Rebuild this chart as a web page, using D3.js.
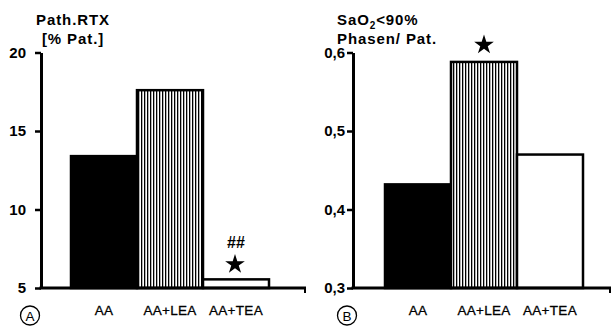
<!DOCTYPE html>
<html>
<head>
<meta charset="utf-8">
<script src="https://cdn.jsdelivr.net/npm/d3@7/dist/d3.min.js"></script>
<style>
  body { margin: 0; background: #fff; }
  svg { font-family: "Liberation Sans", Arial, sans-serif; }
</style>
</head>
<body>
<div id="chart"></div>
<script>
// data
const categories = ['AA', 'AA+LEA', 'AA+TEA'];
const rtxValues = [13.4, 17.6, 5.55];
const rtxTicks = [5, 10, 15, 20];
const saoValues = [0.432, 0.588, 0.470];
const saoTicks = [0.3, 0.4, 0.5, 0.6];
const fills = ['#000', 'url(#hatch)', '#fff'];

const width = 612, height = 327;

const svg = d3.select('#chart')
    .append('svg')
    .attr('width', width)
    .attr('height', height);

// vertical hatch pattern
const pattern = svg.append('defs').append('pattern')
    .attr('id', 'hatch')
    .attr('patternUnits', 'userSpaceOnUse')
    .attr('width', 3)
    .attr('height', 10);
pattern.append('rect').attr('width', 3).attr('height', 10).attr('fill', '#fff');
pattern.append('rect').attr('width', 1.3).attr('height', 10).attr('fill', '#000');

function drawPanel(opts) {

    const g = svg.append('g');

    const y = d3.scaleLinear()
        .domain(opts.domain)
        .range([288, 52.5]);

    const x = d3.scaleBand()
        .domain(categories)
        .range(opts.barRange)
        .padding(0);

    // bars
    g.selectAll('rect.bar')
        .data(opts.values)
        .join('rect')
        .attr('class', 'bar')
        .attr('x', (d, i) => x(categories[i]))
        .attr('y', d => y(d))
        .attr('width', x.bandwidth())
        .attr('height', d => y(opts.domain[0]) - y(d))
        .attr('fill', (d, i) => fills[i])
        .attr('stroke', '#000')
        .attr('stroke-width', 2.5);

    // y axis
    const yAxis = g.append('g')
        .attr('transform', `translate(${opts.axisX},0)`)
        .call(d3.axisLeft(y)
            .tickValues(opts.ticks)
            .tickSize(6)
            .tickSizeOuter(0)
            .tickFormat(opts.format));
    yAxis.select('.domain').attr('stroke-width', 3);
    yAxis.selectAll('.tick line').attr('stroke-width', 2.5);
    yAxis.selectAll('.tick text')
        .attr('font-size', 15)
        .attr('font-weight', 'bold')
        .attr('fill', '#000')
        .attr('x', opts.labelOffset);

    // x axis baseline
    g.append('line')
        .attr('x1', opts.axisX - 1.5)
        .attr('x2', opts.axisEnd)
        .attr('y1', y(opts.domain[0]))
        .attr('y2', y(opts.domain[0]))
        .attr('stroke', '#000')
        .attr('stroke-width', 3);
    g.append('line')
        .attr('x1', opts.axisEnd - 1)
        .attr('x2', opts.axisEnd - 1)
        .attr('y1', y(opts.domain[0]))
        .attr('y2', y(opts.domain[0]) + 5)
        .attr('stroke', '#000')
        .attr('stroke-width', 2);

    // category labels
    g.selectAll('text.cat')
        .data(categories)
        .join('text')
        .attr('class', 'cat')
        .attr('x', d => x(d) + x.bandwidth() / 2)
        .attr('y', 315)
        .attr('text-anchor', 'middle')
        .attr('font-size', 13.5)
        .attr('letter-spacing', 0.3)
        .attr('stroke', '#000')
        .attr('stroke-width', 0.3)
        .text(d => d);

    // panel letter
    g.append('circle')
        .attr('cx', opts.letterX)
        .attr('cy', 315.5)
        .attr('r', 9.5)
        .attr('fill', '#fff')
        .attr('stroke', '#000')
        .attr('stroke-width', 1.3);
    g.append('text')
        .attr('x', opts.letterX)
        .attr('y', 320.5)
        .attr('text-anchor', 'middle')
        .attr('font-size', 13.5)
        .text(opts.letter);

    return { g, x, y };
}

const titleStyle = t => t
    .attr('font-size', 15)
    .attr('font-weight', 'bold')
    .attr('letter-spacing', 0.9);

// panel A
const a = drawPanel({
    domain: [5, 20],
    values: rtxValues,
    ticks: rtxTicks,
    format: d3.format('d'),
    axisX: 41,
    axisEnd: 306,
    barRange: [71, 269],
    labelOffset: -15,
    letter: 'A',
    letterX: 30
});

a.g.append('text')
    .attr('x', 73).attr('y', 25)
    .attr('text-anchor', 'middle')
    .call(titleStyle)
    .text('Path.RTX');
a.g.append('text')
    .attr('x', 73).attr('y', 44)
    .attr('text-anchor', 'middle')
    .call(titleStyle)
    .text('[% Pat.]');

const teaX = a.x('AA+TEA') + a.x.bandwidth() / 2;
a.g.append('text')
    .attr('x', teaX).attr('y', 248)
    .attr('text-anchor', 'middle')
    .attr('font-size', 16)
    .attr('font-weight', 'bold')
    .text('##');
a.g.append('path')
    .attr('d', d3.symbol(d3.symbolStar, 120))
    .attr('transform', `translate(${teaX - 1},${a.y(rtxValues[2]) - 15})`)
    .attr('fill', '#000');

// panel B
const b = drawPanel({
    domain: [0.3, 0.6],
    values: saoValues,
    ticks: saoTicks,
    format: d => d.toFixed(1).replace('.', ','),
    axisX: 353,
    axisEnd: 611,
    barRange: [385, 583],
    labelOffset: -8,
    letter: 'B',
    letterX: 347
});

const t1 = b.g.append('text')
    .attr('x', 337).attr('y', 25)
    .call(titleStyle);
t1.append('tspan').text('SaO');
t1.append('tspan').attr('font-size', 10).attr('dy', 4).text('2');
t1.append('tspan').attr('dy', -4).text('<90%');
b.g.append('text')
    .attr('x', 337).attr('y', 44)
    .call(titleStyle)
    .text('Phasen/ Pat.');

const leaX = b.x('AA+LEA') + b.x.bandwidth() / 2;
b.g.append('path')
    .attr('d', d3.symbol(d3.symbolStar, 120))
    .attr('transform', `translate(${leaX},${b.y(saoValues[1]) - 17})`)
    .attr('fill', '#000');
</script>
</body>
</html>
